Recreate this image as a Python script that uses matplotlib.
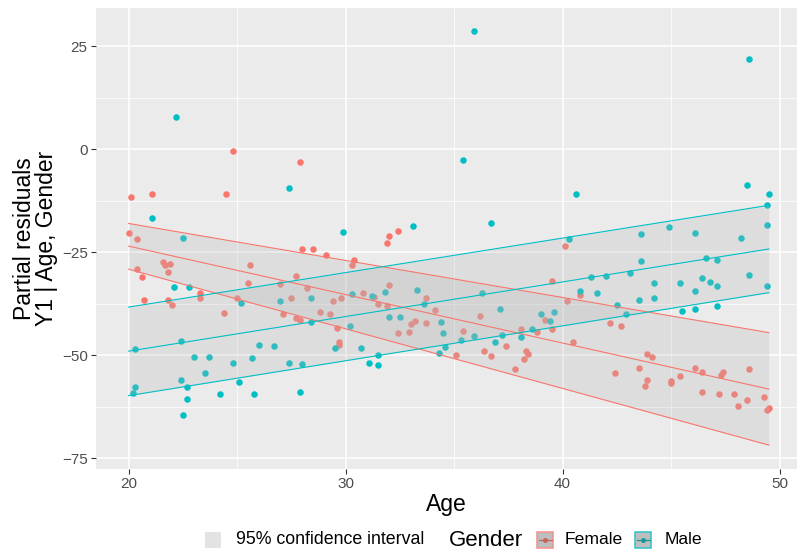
import matplotlib
matplotlib.use("Agg")
import matplotlib.pyplot as plt
from matplotlib.patches import Rectangle
from matplotlib.lines import Line2D

plt.rcParams['font.family'] = ['Liberation Sans', 'DejaVu Sans']

# Partial residuals, female respondents
female_age = [20.1, 21.1, 24.5, 24.8, 27.9, 20.0, 20.4, 21.6, 21.7, 21.9, 20.4, 21.8, 20.6,
              20.7, 21.8, 22.0, 23.3, 23.3, 24.4, 25.6, 25.5, 25.0, 28.0, 28.5, 29.1, 27.7,
              27.0, 27.5, 28.2, 27.1, 27.7, 27.9, 28.8, 29.3, 29.4, 29.8, 29.6, 29.7, 29.7,
              32.4, 32.0, 31.9, 30.4, 30.3, 30.8, 31.3, 31.5, 32.0, 31.9, 33.7, 34.1, 33.2,
              33.0, 33.7, 32.4, 32.9, 35.1, 35.4, 36.2, 37.4, 36.4, 36.7, 37.8, 38.1, 38.3,
              38.4, 38.2, 38.8, 39.2, 39.5, 39.5, 40.1, 40.2, 40.5, 40.8, 42.2, 42.7, 43.9,
              44.1, 43.5, 42.4, 43.9, 43.8, 45.0, 45.0, 45.4, 46.1, 46.4, 47.3, 47.4, 48.6,
              46.4, 47.2, 47.9, 48.5, 48.1, 49.3, 49.4, 49.5]
female_resid = [-11.7, -10.8, -10.8, -0.3, -3.2, -20.3, -21.7, -27.3, -28.0, -27.8, -29.0, -29.9, -31.0,
                -36.5, -36.7, -37.7, -35.0, -36.2, -39.7, -28.2, -32.5, -36.1, -24.3, -24.1, -25.6, -30.8,
                -32.8, -36.0, -33.7, -40.0, -40.9, -41.5, -39.6, -39.9, -36.9, -36.2, -43.4, -46.8, -47.4,
                -19.8, -21.1, -22.7, -26.9, -28.1, -35.0, -35.8, -37.5, -32.9, -38.0, -36.0, -38.9, -41.7,
                -42.3, -42.1, -44.7, -44.4, -50.0, -44.1, -40.5, -47.7, -49.0, -50.2, -53.4, -43.5, -49.0,
                -49.7, -50.8, -44.3, -41.4, -32.0, -43.7, -23.4, -36.8, -46.8, -35.3, -42.2, -43.0, -49.8,
                -50.5, -53.1, -54.2, -56.1, -57.4, -56.2, -56.7, -55.1, -53.2, -54.0, -54.7, -54.0, -53.3,
                -58.8, -59.5, -59.5, -60.8, -62.3, -60.2, -63.3, -62.7]

# Partial residuals, male respondents
male_age = [22.2, 27.4, 21.1, 29.9, 22.5, 35.9, 35.4, 40.6, 36.7, 33.1, 40.3, 48.6, 48.5, 49.5,
            49.4, 43.6, 44.9, 46.1, 48.2, 49.4, 22.1, 22.8, 25.2, 27.0, 28.4, 28.4, 30.2, 29.5,
            20.3, 22.4, 23.0, 23.7, 24.8, 25.7, 26.0, 26.7, 27.4, 28.0, 23.5, 22.4, 22.7, 25.1,
            20.3, 20.2, 24.2, 25.8, 27.9, 22.7, 22.5, 30.3, 31.2, 31.8, 32.0, 32.5, 33.3, 33.6,
            34.4, 34.5, 34.6, 34.3, 35.3, 35.9, 36.3, 37.1, 37.2, 36.9, 30.7, 31.1, 31.5, 31.5,
            38.1, 38.6, 39.0, 39.4, 39.6, 40.8, 43.6, 46.6, 47.1, 41.3, 42.0, 43.1, 48.6, 44.2,
            45.4, 46.4, 46.8, 47.1, 46.1, 49.4, 41.6, 42.5, 42.9, 43.5, 44.2, 45.5, 46.1, 47.1]
male_resid = [7.9, -9.3, -16.7, -20.0, -21.5, 28.8, -2.7, -10.8, -17.8, -18.5, -21.8, 21.8, -8.7, -10.8,
              -13.6, -20.6, -18.9, -20.3, -21.6, -18.4, -33.4, -33.5, -37.4, -36.9, -36.2, -42.0, -42.8, -48.3,
              -48.5, -46.5, -50.4, -50.5, -51.8, -50.7, -47.4, -47.7, -51.8, -52.1, -54.2, -55.9, -57.6, -56.6,
              -57.8, -59.1, -59.5, -59.3, -58.9, -60.5, -64.6, -35.2, -35.5, -34.7, -40.7, -40.6, -34.1, -37.5,
              -42.0, -44.7, -47.9, -49.5, -46.4, -45.4, -34.8, -38.7, -45.1, -46.8, -48.3, -51.8, -49.9, -52.3,
              -45.5, -43.7, -40.0, -41.6, -39.6, -34.4, -27.1, -26.5, -26.9, -31.0, -30.8, -30.1, -30.4, -32.5,
              -32.4, -31.3, -32.1, -33.1, -34.4, -33.2, -34.8, -37.8, -40.0, -36.7, -36.0, -39.3, -38.8, -38.1]

# Fitted effect of age with 95% confidence limits, by gender
fit_age = [20.0, 49.5]
female_fit = [-23.5, -58.2]
female_lower = [-29.1, -71.8]
female_upper = [-18.0, -44.5]
male_fit = [-49.0, -24.2]
male_lower = [-59.8, -34.8]
male_upper = [-38.3, -13.6]

x_ticks = [20, 30, 40, 50]
y_ticks = [25, 0, -25, -50, -75]
y_tick_labels = ['25', '0', '\u221225', '\u221250', '\u221275']

RED = '#F8766D'
TEAL = '#00BFC4'
PANEL = '#EBEBEB'
BAND = (183 / 255, 183 / 255, 183 / 255)

W, H = 797, 554
fig = plt.figure(figsize=(W / 100, H / 100), dpi=100)
left_px, right_px, top_px, bottom_px = 96, 797, 8.3, 469
ax = fig.add_axes([left_px / W, 1 - bottom_px / H,
                   (right_px - left_px) / W, (bottom_px - top_px) / H])
ax.set_facecolor(PANEL)
for s in ax.spines.values():
    s.set_visible(False)

ax.set_xlim(18.50, 50.80)
ax.set_ylim(-77.6, 34.22)

# grid
for v in [25, 35, 45]:
    ax.axvline(v, color='white', lw=0.55, zorder=0.5)
for v in [12.5, -12.5, -37.5, -62.5]:
    ax.axhline(v, color='white', lw=0.55, zorder=0.5)
for v in x_ticks:
    ax.axvline(v, color='white', lw=1.1, zorder=0.6)
for v in y_ticks:
    ax.axhline(v, color='white', lw=1.1, zorder=0.6)

# points
ax.scatter(female_age, female_resid, s=22, color=RED, linewidths=0, zorder=2)
ax.scatter(male_age, male_resid, s=22, color=TEAL, linewidths=0, zorder=2)

# confidence ribbons with coloured outlines, and fitted lines
for lo, hi, fit, col in [(female_lower, female_upper, female_fit, RED),
                         (male_lower, male_upper, male_fit, TEAL)]:
    ax.fill_between(fit_age, lo, hi, color=BAND, alpha=0.25, linewidth=0, zorder=3)
    ax.plot(fit_age, lo, color=col, lw=0.8, zorder=4)
    ax.plot(fit_age, hi, color=col, lw=0.8, zorder=4)
    ax.plot(fit_age, fit, color=col, lw=0.8, zorder=4)

ax.set_xticks(x_ticks)
ax.set_yticks(y_ticks)
ax.set_yticklabels(y_tick_labels)
ax.tick_params(axis='both', colors='#333333', length=3.5, width=0.8,
               labelsize=11, labelcolor='#4D4D4D', pad=2.5)
ax.set_xlabel('Age', fontsize=16.5, color='black', labelpad=1)
ax.set_ylabel('Partial residuals\nY1 | Age, Gender', fontsize=16.5, color='black',
              labelpad=3, linespacing=0.95)

# legend at the bottom, drawn in pixel coordinates
def px(x, y):
    return x / W, 1 - y / H

legend_y = 540
key = 16
x0, y0 = px(205, legend_y + key / 2)
fig.add_artist(Rectangle((x0, y0), key / W, key / H, transform=fig.transFigure,
                         facecolor='#E3E3E3', edgecolor='none'))
fig.text(*px(236, legend_y), '95% confidence interval', fontsize=12.8,
         va='center', ha='left', color='black')
fig.text(*px(449, legend_y + 1), 'Gender', fontsize=16, va='center', ha='left', color='black')

for kx, tx, label, edge, dark in [(537, 565, 'Female', '#F2918A', '#C8635C'),
                                  (635, 665, 'Male', '#2EC4C8', '#15999C')]:
    x0, y0 = px(kx, legend_y + key / 2)
    fig.add_artist(Rectangle((x0, y0), key / W, key / H, transform=fig.transFigure,
                             facecolor='#BEBEBE', edgecolor=edge, linewidth=1.1))
    xa, ya = px(kx + 1.5, legend_y)
    xb, _ = px(kx + key - 1.5, legend_y)
    fig.add_artist(Line2D([xa, xb], [ya, ya], transform=fig.transFigure,
                          color=dark, lw=0.9))
    xc, _ = px(kx + key / 2, legend_y)
    fig.add_artist(Line2D([xc], [ya], transform=fig.transFigure, marker='o',
                          markersize=3.6, color=dark, markeredgewidth=0))
    fig.text(*px(tx, legend_y), label, fontsize=12.6, va='center', ha='left', color='black')

fig.savefig('out.png', dpi=100, facecolor='white')
